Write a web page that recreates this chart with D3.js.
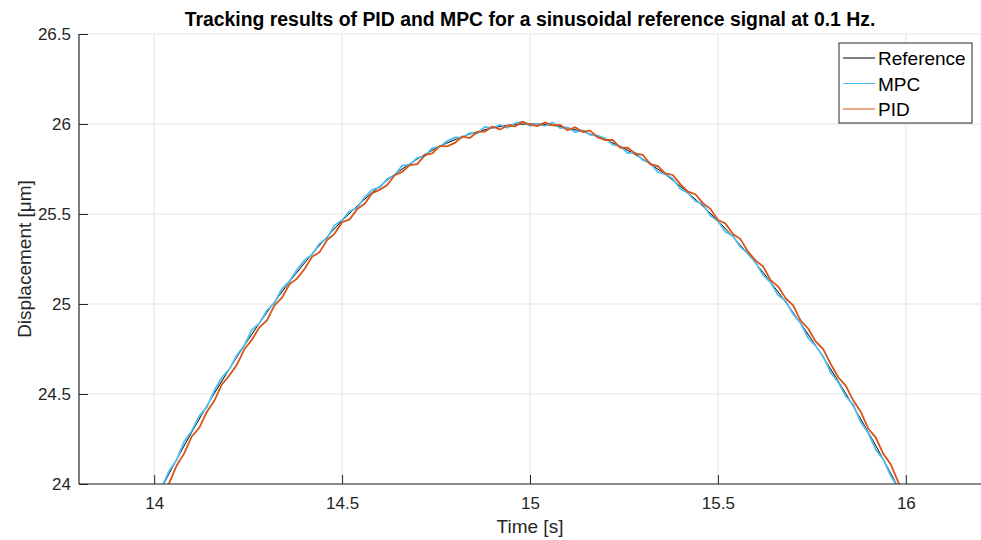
<!DOCTYPE html>
<html lang="en">
<head>
	<meta charset="utf-8">
	<title>PID vs MPC tracking</title>
	<script type="text/javascript" src="https://cdn.jsdelivr.net/npm/d3@7/dist/d3.min.js"></script>
	<style>
		body { margin: 0; background-color: #ffffff; }
		text { font-family: "Liberation Sans", Arial, Helvetica, sans-serif; }
	</style>
</head>
<body>
	<div id="chart"></div>
	<script>
	// reference sine, read every 0.05 s
	var ref_time = [14.00, 14.05, 14.10, 14.15, 14.20, 14.25, 14.30, 14.35, 14.40, 14.45, 14.50,
		14.55, 14.60, 14.65, 14.70, 14.75, 14.80, 14.85, 14.90, 14.95, 15.00,
		15.05, 15.10, 15.15, 15.20, 15.25, 15.30, 15.35, 15.40, 15.45, 15.50,
		15.55, 15.60, 15.65, 15.70, 15.75, 15.80, 15.85, 15.90, 15.95, 16.00];
	var ref_values = [23.899, 24.098, 24.288, 24.468, 24.639, 24.801, 24.953, 25.095, 25.228, 25.350, 25.462,
		25.563, 25.654, 25.735, 25.805, 25.865, 25.913, 25.951, 25.978, 25.995, 26.000,
		25.995, 25.978, 25.951, 25.913, 25.865, 25.805, 25.735, 25.654, 25.563, 25.462,
		25.350, 25.228, 25.095, 24.953, 24.801, 24.639, 24.468, 24.288, 24.098, 23.899];

	// measured signals, read every 0.02 s from 14.00 to 16.00
	var meas_t0 = 14.0;
	var meas_dt = 0.02;
	var mpc_values = [
		23.919, 23.982, 24.073, 24.134, 24.236, 24.295, 24.378, 24.427, 24.518, 24.592,
		24.637, 24.715, 24.771, 24.856, 24.893, 24.964, 25.006, 25.084, 25.125, 25.190,
		25.244, 25.275, 25.336, 25.366, 25.437, 25.465, 25.516, 25.534, 25.593, 25.635,
		25.648, 25.694, 25.717, 25.769, 25.774, 25.812, 25.821, 25.866, 25.874, 25.905,
		25.925, 25.924, 25.950, 25.947, 25.984, 25.977, 25.995, 25.979, 26.003, 26.011,
		25.990, 26.001, 25.990, 26.008, 25.977, 25.981, 25.956, 25.966, 25.939, 25.936,
		25.921, 25.885, 25.877, 25.839, 25.841, 25.800, 25.783, 25.733, 25.722, 25.696,
		25.640, 25.617, 25.572, 25.555, 25.491, 25.461, 25.401, 25.378, 25.317, 25.280,
		25.232, 25.162, 25.120, 25.049, 25.018, 24.944, 24.894, 24.811, 24.768, 24.709,
		24.621, 24.566, 24.489, 24.440, 24.344, 24.283, 24.192, 24.137, 24.045, 23.978,
		23.899];
	var pid_values = [
		23.849, 23.949, 24.005, 24.103, 24.170, 24.264, 24.312, 24.400, 24.462, 24.553,
		24.603, 24.662, 24.749, 24.801, 24.871, 24.909, 24.992, 25.035, 25.109, 25.141,
		25.194, 25.262, 25.288, 25.355, 25.391, 25.454, 25.470, 25.527, 25.557, 25.616,
		25.634, 25.661, 25.715, 25.734, 25.772, 25.777, 25.827, 25.837, 25.878, 25.876,
		25.895, 25.931, 25.922, 25.956, 25.958, 25.986, 25.969, 25.992, 25.987, 26.012,
		25.996, 25.988, 26.008, 25.993, 25.995, 25.966, 25.982, 25.957, 25.963, 25.927,
		25.911, 25.912, 25.869, 25.868, 25.835, 25.829, 25.777, 25.766, 25.726, 25.717,
		25.666, 25.624, 25.610, 25.560, 25.529, 25.466, 25.447, 25.389, 25.361, 25.291,
		25.242, 25.209, 25.132, 25.098, 25.032, 24.993, 24.908, 24.864, 24.792, 24.750,
		24.667, 24.593, 24.547, 24.465, 24.402, 24.308, 24.258, 24.168, 24.109, 24.009,
		23.929];

	var x_ticks = [14, 14.5, 15, 15.5, 16];
	var y_ticks = [24, 24.5, 25, 25.5, 26, 26.5];
	var series_names = ["Reference", "MPC", "PID"];
	var series_colors = ["#000000", "#4DBEEE", "#D95319"];

	var width = 981, height = 540;
	var m_left = 79, m_right = 981, m_top = 34, m_bottom = 484;
	var ax_color = "#262626";

	var svg = d3.select("#chart")
		.append("svg")
		.attr("width", width)
		.attr("height", height);

	var x = d3.scaleLinear().domain([13.8, 16.2]).range([m_left, m_right]);
	var y = d3.scaleLinear().domain([24, 26.5]).range([m_bottom, m_top]);

	svg.append("defs").append("clipPath")
		.attr("id", "plot_clip")
		.append("rect")
		.attr("x", m_left).attr("y", m_top)
		.attr("width", m_right - m_left).attr("height", m_bottom - m_top);

	// grid
	var grid = svg.append("g");
	grid.selectAll(".gx").data(x_ticks).enter().append("line")
		.attr("x1", function(d) { return x(d); })
		.attr("x2", function(d) { return x(d); })
		.attr("y1", m_top).attr("y2", m_bottom)
		.attr("stroke", "#e3e3e3").attr("stroke-width", 1);
	grid.selectAll(".gy").data(y_ticks).enter().append("line")
		.attr("x1", m_left).attr("x2", m_right)
		.attr("y1", function(d) { return y(d); })
		.attr("y2", function(d) { return y(d); })
		.attr("stroke", "#e3e3e3").attr("stroke-width", 1);

	// lines
	var plot = svg.append("g").attr("clip-path", "url(#plot_clip)");

	var ref_pts = ref_time.map(function(t, i) { return [t, ref_values[i]]; });
	var mpc_pts = mpc_values.map(function(v, i) { return [meas_t0 + i * meas_dt, v]; });
	var pid_pts = pid_values.map(function(v, i) { return [meas_t0 + i * meas_dt, v]; });

	var smooth = d3.line().x(function(d) { return x(d[0]); }).y(function(d) { return y(d[1]); })
		.curve(d3.curveNatural);
	var jagged = d3.line().x(function(d) { return x(d[0]); }).y(function(d) { return y(d[1]); });

	plot.append("path").attr("d", smooth(ref_pts))
		.attr("fill", "none").attr("stroke", series_colors[0]).attr("stroke-width", 1);
	plot.append("path").attr("d", jagged(mpc_pts))
		.attr("fill", "none").attr("stroke", series_colors[1]).attr("stroke-width", 1.8)
		.attr("stroke-linejoin", "miter");
	plot.append("path").attr("d", jagged(pid_pts))
		.attr("fill", "none").attr("stroke", series_colors[2]).attr("stroke-width", 1.8)
		.attr("stroke-linejoin", "miter");

	// axes
	var xAxis = d3.axisBottom(x).tickValues(x_ticks).tickSize(-9).tickPadding(13)
		.tickFormat(function(d) { return d3.format("")(d); });
	var yAxis = d3.axisLeft(y).tickValues(y_ticks).tickSize(-9).tickPadding(8)
		.tickFormat(function(d) { return d3.format("")(d); });

	var gx = svg.append("g").attr("transform", "translate(0," + m_bottom + ")").call(xAxis);
	var gy = svg.append("g").attr("transform", "translate(" + m_left + ",0)").call(yAxis);
	[gx, gy].forEach(function(g) {
		g.select(".domain").attr("stroke", ax_color).attr("stroke-width", 1.2);
		g.selectAll(".tick line").attr("stroke", ax_color).attr("stroke-width", 1);
		g.selectAll(".tick text").attr("fill", ax_color)
			.style("font-family", "'Liberation Sans', Arial, sans-serif")
			.style("font-size", "17px");
	});
	gx.select(".domain").attr("d", "M" + m_left + ",0H" + m_right);
	gy.select(".domain").attr("d", "M0," + m_top + "V" + m_bottom);

	// labels
	svg.append("text")
		.attr("x", (m_left + m_right) / 2).attr("y", 26)
		.attr("text-anchor", "middle")
		.style("font-size", "19.4px").style("font-weight", "bold")
		.attr("fill", "#000")
		.text("Tracking results of PID and MPC for a sinusoidal reference signal at 0.1 Hz.");
	svg.append("text")
		.attr("x", (m_left + m_right) / 2).attr("y", 533)
		.attr("text-anchor", "middle")
		.style("font-size", "19px")
		.attr("fill", ax_color)
		.text("Time [s]");
	svg.append("text")
		.attr("transform", "translate(31," + ((m_top + m_bottom) / 2) + ") rotate(-90)")
		.attr("text-anchor", "middle")
		.style("font-size", "19px")
		.attr("fill", ax_color)
		.text("Displacement [\u03bcm]");

	// legend
	var leg = svg.append("g").attr("transform", "translate(839,43)");
	leg.append("rect")
		.attr("x", 0).attr("y", 0).attr("width", 133).attr("height", 80)
		.attr("fill", "#fff").attr("stroke", ax_color).attr("stroke-width", 1);
	series_names.forEach(function(name, i) {
		var ly = 15 + i * 25.5;
		leg.append("line")
			.attr("x1", 4).attr("x2", 36).attr("y1", ly).attr("y2", ly)
			.attr("stroke", series_colors[i]).attr("stroke-width", 1);
		leg.append("text")
			.attr("x", 39).attr("y", ly + 7)
			.style("font-size", "19px")
			.attr("fill", "#000")
			.text(name);
	});
	</script>
</body>
</html>
